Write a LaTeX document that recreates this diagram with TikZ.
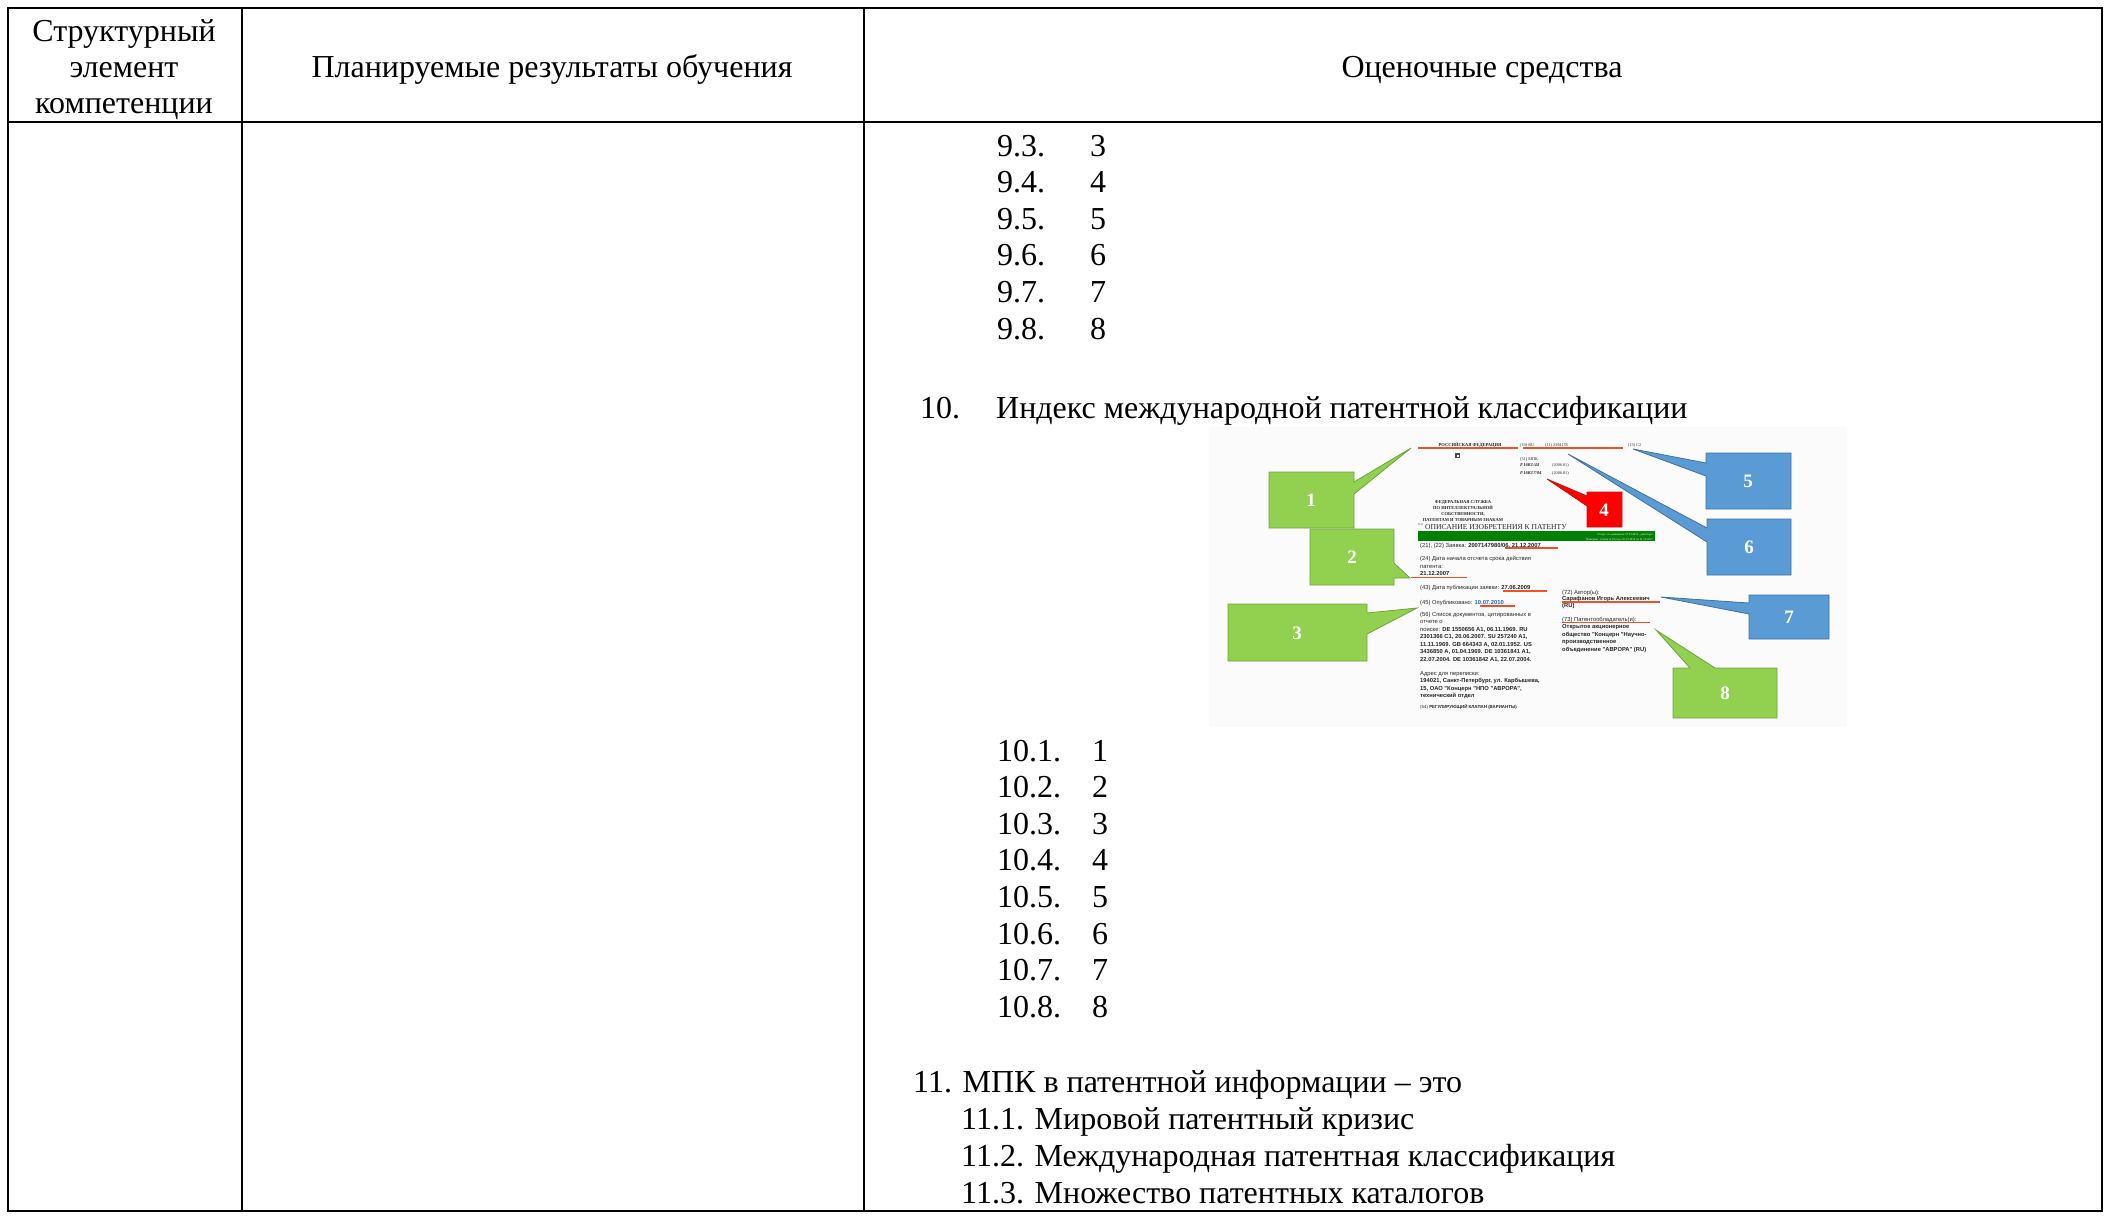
\documentclass[tikz,border=0pt]{standalone}
\usepackage{fontspec}
\setmainfont{Liberation Serif}
\newfontfamily\patsans{Liberation Sans}
\definecolor{calgreen}{RGB}{146,208,80}
\definecolor{calgreenb}{RGB}{112,162,62}
\definecolor{calblue}{RGB}{91,155,213}
\definecolor{calblueb}{RGB}{65,113,156}
\definecolor{calred}{RGB}{255,0,0}
\definecolor{calredb}{RGB}{200,20,20}
\definecolor{uline}{RGB}{232,82,45}
\definecolor{bargreen}{RGB}{0,128,0}
\definecolor{linkblue}{RGB}{30,100,190}
\tikzset{
  tbl/.style={line width=2.8pt, line cap=rect},
  body/.style={font=\fontsize{32}{36.6}\selectfont, inner sep=0pt, anchor=base west},
  hdr/.style={font=\fontsize{32}{36.6}\selectfont, inner sep=0pt, anchor=base},
  callg/.style={fill=calgreen, draw=calgreenb, line width=0.8pt, line join=miter},
  callb/.style={fill=calblue, draw=calblueb, line width=0.8pt, line join=miter},
  callr/.style={fill=calred, draw=calredb, line width=0.8pt, line join=miter},
  num/.style={font=\bfseries\fontsize{19}{19}\selectfont, text=white, inner sep=0pt},
  ps/.style={font=\patsans\fontsize{5.8}{7.5}\selectfont, inner sep=0pt, anchor=base west, text=black!85},
  psb/.style={ps, font=\patsans\bfseries\fontsize{5.8}{7.5}\selectfont},
  srf/.style={font=\fontsize{4.2}{5}\selectfont, inner sep=0pt, anchor=base west, text=black!85},
  srfb/.style={font=\bfseries\fontsize{4.5}{5}\selectfont, inner sep=0pt, anchor=base, text=black!85},
  ul/.style={draw=uline, line width=1.8pt}
}
\begin{document}
\begin{tikzpicture}[x=1pt,y=-1pt]
\useasboundingbox (0,0) rectangle (2111,1216);
\fill[white] (0,0) rectangle (2111,1216);

% table
\draw[tbl] (8,8) rectangle (2102,1211);
\draw[tbl] (8,122) -- (2102,122);
\draw[tbl] (242,8) -- (242,1211);
\draw[tbl] (864,8) -- (864,1211);

% header
\node[hdr] (h1a) at (124,41) {Структурный};
\node[hdr] (h1b) at (124,77) {элемент};
\node[hdr] (h1c) at (124,113) {компетенции};
\node[hdr] (h2) at (552,77) {Планируемые результаты обучения};
\node[hdr] (h3) at (1482,77) {Оценочные средства};

% list 9
\foreach \i [count=\k from 0] in {3,...,8} {
  \node[body] (n9\i) at (997,156+36.6*\k) {9.\i.};
  \node[body] (v9\i) at (1090,156+36.6*\k) {\i};
}
\node[body] (q10) at (920,418) {10.};
\node[body] (q10t) at (996,418) {Индекс международной патентной классификации};

% list 10
\foreach \i [count=\k from 0] in {1,...,8} {
  \node[body] (n10\i) at (997,761+36.6*\k) {10.\i.};
  \node[body] (v10\i) at (1092,761+36.6*\k) {\i};
}

% question 11
\node[body] (q11) at (913,1092) {11. МПК в патентной информации – это};
\node[body] (a111) at (961,1129) {11.1. Мировой патентный кризис};
\node[body] (a112) at (961,1166) {11.2. Международная патентная классификация};
\node[body] (a113) at (961,1203) {11.3. Множество патентных каталогов};

% ===== embedded patent picture =====
\fill[black!1.5] (1209,427) rectangle (1847,727);

\node[srfb] (rf) at (1470,446) {РОССИЙСКАЯ ФЕДЕРАЦИЯ};
\node[srf] (r19) at (1520,446) {(19) RU};
\node[srf] (r11) at (1545,446) {(11) 2394178};
\node[srf] (r13) at (1628,446) {(13) C2};
\fill[black!70] (1455,453) rectangle (1460,458);
\fill[white] (1456.5,454.5) rectangle (1458.5,456.5);
\node[srf] (r51) at (1520,460) {(51) МПК};
\node[srf, font=\bfseries\itshape\fontsize{4.6}{5}\selectfont] (f1) at (1520,466) {F16K1/44};
\node[srf] (f1d) at (1552,466) {(2006.01)};
\node[srf, font=\bfseries\itshape\fontsize{4.6}{5}\selectfont] (f2) at (1520,474) {F16K17/04};
\node[srf] (f2d) at (1552,474) {(2006.01)};
\node[srfb] (fs1) at (1463,503) {ФЕДЕРАЛЬНАЯ СЛУЖБА};
\node[srfb] (fs2) at (1463,509) {ПО ИНТЕЛЛЕКТУАЛЬНОЙ};
\node[srfb] (fs3) at (1463,515) {СОБСТВЕННОСТИ,};
\node[srfb] (fs4) at (1463,521) {ПАТЕНТАМ И ТОВАРНЫМ ЗНАКАМ};
\node[srf, font=\fontsize{2.8}{3}\selectfont] (r12) at (1418,525) {(12)};
\node[srf, font=\fontsize{7.6}{8}\selectfont] (op) at (1425,529) {ОПИСАНИЕ ИЗОБРЕТЕНИЯ К ПАТЕНТУ};
\fill[bargreen] (1418,531) rectangle (1655,541);
\node[inner sep=0pt, anchor=base east, text=white, font=\fontsize{2.9}{3}\selectfont] (st1) at (1653,535.5) {Статус: по данным на 27.03.2015 - действует};
\node[inner sep=0pt, anchor=base east, text=white, font=\fontsize{2.9}{3}\selectfont] (st2) at (1653,540) {Пошлина: учтена за 10 год с 22.12.2016 по 21.12.2017};

\node[ps] (t21) at (1420,547) {(21), (22) Заявка: \textbf{2007147980/06, 21.12.2007}};
\node[ps] (t24) at (1420,560) {(24) Дата начала отсчета срока действия};
\node[ps] (t24b) at (1420,568.5) {патента:};
\node[psb] (t24c) at (1420,575.5) {21.12.2007};
\node[ps] (t43) at (1420,589) {(43) Дата публикации заявки: \textbf{27.06.2009}};
\node[ps] (t45) at (1420,604) {(45) Опубликовано: \textcolor{linkblue}{\textbf{10.07.2010}}};
\node[ps] (t56) at (1420,616) {(56) Список документов, цитированных в};
\node[ps] (t56b) at (1420,623.5) {отчете о};
\node[ps] (t56c) at (1420,631) {поиске: \textbf{DE 1550656 A1, 06.11.1969. RU}};
\node[psb] (t56d) at (1420,638.5) {2301366 C1, 20.06.2007. SU 257240 A1,};
\node[psb] (t56e) at (1420,646) {11.11.1969. GB 664343 A, 02.01.1952. US};
\node[psb] (t56f) at (1420,653.5) {3436850 A, 01.04.1969. DE 10361841 A1,};
\node[psb] (t56g) at (1420,661) {22.07.2004. DE 10361842 A1, 22.07.2004.};
\node[ps] (tad) at (1420,675) {Адрес для переписки:};
\node[psb] (tad1) at (1420,682.5) {194021, Санкт-Петербург, ул. Карбышева,};
\node[psb] (tad2) at (1420,690) {15, ОАО "Концерн "НПО "АВРОРА",};
\node[psb] (tad3) at (1420,697.5) {технический отдел};
\node[ps, font=\patsans\fontsize{4.4}{5}\selectfont] (t54) at (1420,708) {(54) \textbf{РЕГУЛИРУЮЩИЙ КЛАПАН (ВАРИАНТЫ)}};
\node[ps] (t72) at (1562,594) {(72) Автор(ы):};
\node[psb] (t72b) at (1562,600.5) {Сарафанов Игорь Алексеевич};
\node[psb] (t72c) at (1562,607) {(RU)};
\node[ps] (t73) at (1562,621) {(73) Патентообладатель(и):};
\node[psb] (t73b) at (1562,628.5) {Открытое акционерное};
\node[psb] (t73c) at (1562,636) {общество "Концерн "Научно-};
\node[psb] (t73d) at (1562,643.5) {производственное};
\node[psb] (t73e) at (1562,651) {объединение "АВРОРА" (RU)};

% underlines
\draw[ul] (1418,448) -- (1518,448);
\draw[ul] (1523,448) -- (1623,448);
\draw[ul] (1505,548) -- (1558,548);
\draw[ul] (1411,577.5) -- (1467,577.5);
\draw[ul] (1503,591) -- (1547,591);
\draw[ul] (1480,606) -- (1515,606);
\draw[ul] (1562,602) -- (1660,602);
\draw[ul] (1562,622.5) -- (1650,622.5);

% callouts
\draw[callg] (1269,472) -- (1354,472) -- (1354,482) -- (1411,448) -- (1354,494) -- (1354,528) -- (1269,528) -- cycle;
\node[num] (c1) at (1311,500) {1};
\draw[callg] (1310,529) -- (1394,529) -- (1394,563) -- (1410,578) -- (1394,578) -- (1394,585) -- (1310,585) -- cycle;
\node[num] (c2) at (1352,557) {2};
\draw[callg] (1228,604) -- (1367,604) -- (1367,613) -- (1417,608) -- (1367,634) -- (1367,661) -- (1228,661) -- cycle;
\node[num] (c3) at (1297,633) {3};
\draw[callr] (1587,492) -- (1622,492) -- (1622,527) -- (1587,527) -- (1587,506) -- (1547,479) -- (1587,496) -- cycle;
\node[num] (c4) at (1604,510) {4};
\draw[callb] (1706,453) -- (1791,453) -- (1791,509) -- (1706,509) -- (1706,476) -- (1633,449) -- (1706,463) -- cycle;
\node[num] (c5) at (1748,481) {5};
\draw[callb] (1707,519) -- (1791,519) -- (1791,575) -- (1707,575) -- (1707,542) -- (1568,454) -- (1707,528) -- cycle;
\node[num] (c6) at (1749,547) {6};
\draw[callb] (1749,595) -- (1829,595) -- (1829,639) -- (1749,639) -- (1749,614) -- (1661,597) -- (1749,603) -- cycle;
\node[num] (c7) at (1789,617) {7};
\draw[callg] (1673,668) -- (1690,668) -- (1656,630) -- (1715,668) -- (1777,668) -- (1777,718) -- (1673,718) -- cycle;
\node[num] (c8) at (1725,693) {8};
\end{tikzpicture}
\end{document}
